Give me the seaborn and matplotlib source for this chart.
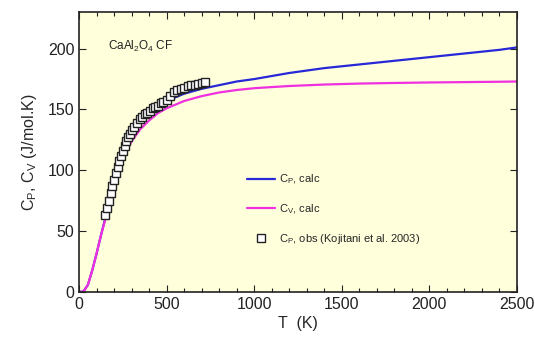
import matplotlib
matplotlib.use("Agg")
import matplotlib.pyplot as plt
import seaborn as sns
import pandas as pd
from matplotlib.ticker import MultipleLocator

sns.set_theme(style="ticks")
plt.rcParams['font.family'] = ['Liberation Sans', 'DejaVu Sans']
plt.rcParams['mathtext.fontset'] = 'custom'
plt.rcParams['mathtext.rm'] = 'Liberation Sans'
plt.rcParams['mathtext.it'] = 'Liberation Sans'

T_calc = [0, 25, 50, 75, 100, 125, 150, 175, 200, 250, 300, 350, 400, 450, 500,
          600, 700, 800, 900, 1000, 1200, 1400, 1600, 1800, 2000, 2200, 2400, 2500]
Cp_calc = [0, 0.5, 6, 18, 32, 47, 61, 76, 90, 112, 127, 138, 146, 152, 157,
           163, 167, 170, 173, 175, 180, 184, 187, 190, 193, 196, 199, 201]
Cv_calc = [0, 0.5, 6, 18, 32, 47, 60, 75, 88, 110, 124, 134, 141, 147, 151,
           157, 161, 164, 166, 167.5, 169.3, 170.5, 171.3, 171.8, 172.2, 172.5, 172.8, 173]

T_obs = [150, 160, 170, 180, 190, 200, 210, 220, 230, 240, 250, 260, 270, 280, 290,
         300, 315, 330, 345, 360, 375, 390, 405, 420, 435, 450, 465, 480, 500, 520,
         540, 560, 580, 600, 620, 640, 660, 680, 700, 720]
Cp_obs = [63, 69, 75, 81, 87, 92, 98, 103, 108, 112, 116, 120, 124, 127, 130,
          133, 136, 139, 142, 144, 146, 147, 149, 151, 152, 153, 155, 156, 158, 161,
          164, 166, 167, 168, 169, 170, 170, 171, 172, 173]

fig = plt.figure(figsize=(5.35, 3.57), dpi=100)
ax = fig.add_axes([0.148, 0.182, 0.818, 0.784])
ax.set_facecolor('#FFFFDC')

df_cp = pd.DataFrame({'T': T_calc, 'C': Cp_calc})
df_cv = pd.DataFrame({'T': T_calc, 'C': Cv_calc})
df_obs = pd.DataFrame({'T': T_obs, 'C': Cp_obs})

sns.lineplot(data=df_cp, x='T', y='C', ax=ax, color='#2828D8', lw=1.6,
             label=r'C$_P$, calc')
sns.lineplot(data=df_cv, x='T', y='C', ax=ax, color='#F030E0', lw=1.6,
             label=r'C$_V$, calc')
ax.plot(df_obs['T'], df_obs['C'], ls='none', marker='s', ms=5.5, mfc='white',
        mec='#222222', mew=1.0, label=r'C$_P$, obs (Kojitani et al. 2003)')

ax.set_xlim(0, 2500)
ax.set_ylim(0, 230)
ax.xaxis.set_major_locator(MultipleLocator(500))
ax.xaxis.set_minor_locator(MultipleLocator(100))
ax.yaxis.set_major_locator(MultipleLocator(50))
ax.tick_params(which='both', direction='in', top=True, right=True, labelsize=11.5,
               colors='#222222')
ax.tick_params(which='major', length=5, width=0.8)
ax.tick_params(which='minor', length=3, width=0.8)
for s in ax.spines.values():
    s.set_linewidth(1.2)
    s.set_color('#222222')

ax.set_xlabel('T  (K)', fontsize=11.5, labelpad=3)
ax.set_ylabel(r'C$_P$, C$_V$ (J/mol.K)', fontsize=11.5, labelpad=6)

ax.text(0.065, 0.865, r'CaAl$_2$O$_4$ CF', transform=ax.transAxes, fontsize=8.5,
        color='#222222')

leg = ax.legend(loc='center left', bbox_to_anchor=(0.36, 0.295), frameon=False,
                fontsize=8, handlelength=2.5, labelspacing=1.45, handletextpad=0.4)

fig.savefig('out.png', dpi=100)
